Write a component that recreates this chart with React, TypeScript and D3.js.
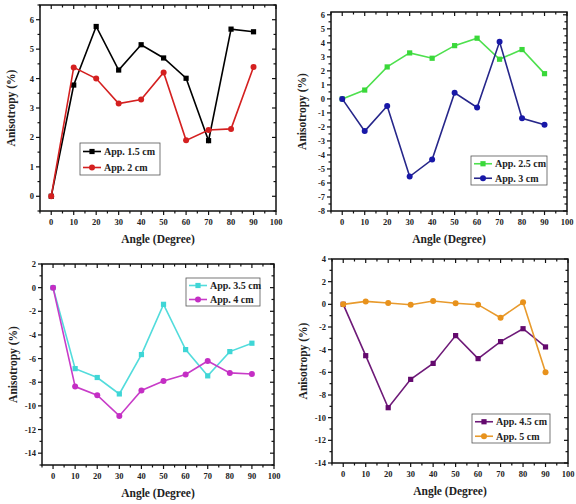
import React, { useEffect, useRef } from 'react';
import * as d3 from 'd3';

// angles (degree) shared by all panels
const angles = [0, 10, 20, 30, 40, 50, 60, 70, 80, 90];
const xTicks = [0, 10, 20, 30, 40, 50, 60, 70, 80, 90, 100];

// anisotropy (%)
const app15 = [0, 3.78, 5.77, 4.29, 5.15, 4.7, 4.01, 1.89, 5.68, 5.59];
const app2 = [0, 4.38, 4.0, 3.15, 3.29, 4.21, 1.9, 2.25, 2.29, 4.39];
const app25 = [0, 0.63, 2.28, 3.28, 2.9, 3.8, 4.33, 2.83, 3.52, 1.8];
const app3 = [0, -2.3, -0.51, -5.54, -4.33, 0.44, -0.61, 4.07, -1.39, -1.85];
const app35 = [0, -6.85, -7.6, -8.99, -5.66, -1.41, -5.24, -7.46, -5.41, -4.7];
const app4 = [0, -8.37, -9.1, -10.85, -8.7, -7.89, -7.35, -6.2, -7.21, -7.3];
const app45 = [0, -4.53, -9.12, -6.62, -5.21, -2.76, -4.79, -3.29, -2.15, -3.76];
const app5 = [0, 0.26, 0.12, -0.03, 0.29, 0.09, -0.03, -1.18, 0.18, -6.0];

const FONT = '"Liberation Serif", "Times New Roman", serif';

type Series = { name: string; values: number[]; color: string; line: string; shape: 'square' | 'circle' };
type PanelCfg = {
  left: number; right: number; top: number; bottom: number;
  yDomain: [number, number]; yMajor: number; yMinor: number; yMin: number; yMax: number;
  legend: { x: number; y: number; w: number; h: number };
  series: Series[];
};

const panels: PanelCfg[] = [
  {
    left: 40, right: 276, top: 5, bottom: 211,
    yDomain: [-0.5, 6.5], yMajor: 1, yMinor: 0.5, yMin: 0, yMax: 6,
    legend: { x: 80, y: 143, w: 80, h: 32 },
    series: [
      { name: 'App. 1.5 cm', values: app15, color: '#000000', line: '#000000', shape: 'square' },
      { name: 'App. 2 cm', values: app2, color: '#d42020', line: '#d42020', shape: 'circle' },
    ],
  },
  {
    left: 331, right: 567, top: 12, bottom: 211,
    yDomain: [-8, 6.2], yMajor: 1, yMinor: 0.5, yMin: -8, yMax: 6,
    legend: { x: 471, y: 156, w: 76, h: 29 },
    series: [
      { name: 'App. 2.5 cm', values: app25, color: '#3ad83a', line: '#4ee04e', shape: 'square' },
      { name: 'App. 3 cm', values: app3, color: '#1818a8', line: '#26268a', shape: 'circle' },
    ],
  },
  {
    left: 42, right: 274, top: 264, bottom: 465,
    yDomain: [-15, 2], yMajor: 2, yMinor: 1, yMin: -14, yMax: 2,
    legend: { x: 186, y: 278, w: 74, h: 28 },
    series: [
      { name: 'App. 3.5 cm', values: app35, color: '#3fd6d6', line: '#52dcdc', shape: 'square' },
      { name: 'App. 4 cm', values: app4, color: '#c42ec4', line: '#c83cc8', shape: 'circle' },
    ],
  },
  {
    left: 332, right: 568, top: 259, bottom: 463,
    yDomain: [-14, 4], yMajor: 2, yMinor: 1, yMin: -14, yMax: 4,
    legend: { x: 472, y: 414, w: 78, h: 29 },
    series: [
      { name: 'App. 4.5 cm', values: app45, color: '#640a6e', line: '#6e1a78', shape: 'square' },
      { name: 'App. 5 cm', values: app5, color: '#e8921c', line: '#e89a2c', shape: 'circle' },
    ],
  },
];

function drawMarker(g: any, shape: string, x: number, y: number, color: string) {
  if (shape === 'square') {
    g.append('rect').attr('x', x - 2.6).attr('y', y - 2.6).attr('width', 5.2).attr('height', 5.2).attr('fill', color);
  } else {
    g.append('circle').attr('cx', x).attr('cy', y).attr('r', 3).attr('fill', color);
  }
}

function drawPanel(svg: any, p: PanelCfg) {
  const x = d3.scaleLinear().domain([-5, 100]).range([p.left, p.right]);
  const y = d3.scaleLinear().domain(p.yDomain).range([p.bottom, p.top]);
  const g = svg.append('g');

  // data lines and markers
  p.series.forEach((s) => {
    const line = d3.line<number>().x((_, i) => x(angles[i])).y((d) => y(d));
    g.append('path').attr('d', line(s.values)).attr('fill', 'none').attr('stroke', s.line).attr('stroke-width', 1.6);
    s.values.forEach((v, i) => drawMarker(g, s.shape, x(angles[i]), y(v), s.color));
  });

  // frame
  g.append('rect')
    .attr('x', p.left).attr('y', p.top)
    .attr('width', p.right - p.left).attr('height', p.bottom - p.top)
    .attr('fill', 'none').attr('stroke', '#111').attr('stroke-width', 1.5);

  // x ticks (outward bottom, inward top)
  const xMinor = d3.range(-5, 101, 5);
  xMinor.forEach((t) => {
    const major = t % 10 === 0;
    const len = major ? 4 : 2.5;
    const px = x(t);
    g.append('line').attr('x1', px).attr('x2', px).attr('y1', p.bottom).attr('y2', p.bottom + len).attr('stroke', '#111').attr('stroke-width', 1.2);
    g.append('line').attr('x1', px).attr('x2', px).attr('y1', p.top).attr('y2', p.top + len).attr('stroke', '#111').attr('stroke-width', 1.2);
  });
  xTicks.forEach((t) => {
    g.append('text').attr('x', x(t)).attr('y', p.bottom + 14).attr('text-anchor', 'middle')
      .attr('font-family', FONT).attr('font-weight', 'bold').attr('font-size', 8.5).attr('fill', '#222').text(t);
  });

  // y ticks (outward left, inward right)
  const [d0, d1] = p.yDomain;
  const yMinorTicks = d3.range(Math.ceil(d0 / p.yMinor) * p.yMinor, d1 + 1e-9, p.yMinor);
  yMinorTicks.forEach((t) => {
    const major = Math.abs(t / p.yMajor - Math.round(t / p.yMajor)) < 1e-6;
    const len = major ? 4 : 2.5;
    const py = y(t);
    g.append('line').attr('x1', p.left - len).attr('x2', p.left).attr('y1', py).attr('y2', py).attr('stroke', '#111').attr('stroke-width', 1.2);
    g.append('line').attr('x1', p.right - len).attr('x2', p.right).attr('y1', py).attr('y2', py).attr('stroke', '#111').attr('stroke-width', 1.2);
  });
  d3.range(p.yMin, p.yMax + 1e-9, p.yMajor).forEach((t) => {
    g.append('text').attr('x', p.left - 6).attr('y', y(t) + 3).attr('text-anchor', 'end')
      .attr('font-family', FONT).attr('font-weight', 'bold').attr('font-size', 8.5).attr('fill', '#222').text(t);
  });

  // axis titles
  g.append('text').attr('x', (p.left + p.right) / 2).attr('y', p.bottom + 32).attr('text-anchor', 'middle')
    .attr('font-family', FONT).attr('font-weight', 'bold').attr('font-size', 11.5).attr('fill', '#222').text('Angle (Degree)');
  const cy = (p.top + p.bottom) / 2;
  g.append('text').attr('transform', `translate(${p.left - 25},${cy}) rotate(-90)`).attr('text-anchor', 'middle')
    .attr('font-family', FONT).attr('font-weight', 'bold').attr('font-size', 11.5).attr('fill', '#222').text('Anisotropy (%)');

  // legend
  const lg = g.append('g').attr('transform', `translate(${p.legend.x},${p.legend.y})`);
  lg.append('rect').attr('width', p.legend.w).attr('height', p.legend.h).attr('fill', 'white').attr('stroke', '#555').attr('stroke-width', 0.8);
  const rowH = p.legend.h / 2;
  p.series.forEach((s, i) => {
    const ly = rowH * i + rowH / 2 + 0.5;
    lg.append('line').attr('x1', 3).attr('x2', 21).attr('y1', ly).attr('y2', ly).attr('stroke', s.line).attr('stroke-width', 1.6);
    drawMarker(lg, s.shape, 12, ly, s.color);
    lg.append('text').attr('x', 24).attr('y', ly + 3.5).attr('font-family', FONT).attr('font-weight', 'bold')
      .attr('font-size', 10).attr('fill', '#222').text(s.name);
  });
}

const App = () => {
  const svgRef = useRef<SVGSVGElement>(null);

  useEffect(() => {
    const svg = d3.select(svgRef.current);
    svg.selectAll('*').remove();
    svg.append('rect').attr('width', 576).attr('height', 504).attr('fill', 'white');
    panels.forEach((p) => drawPanel(svg, p));
  }, []);

  return <svg ref={svgRef} width={576} height={504} style={{ position: 'absolute', left: 0, top: 0 }}></svg>;
};

export default App;
